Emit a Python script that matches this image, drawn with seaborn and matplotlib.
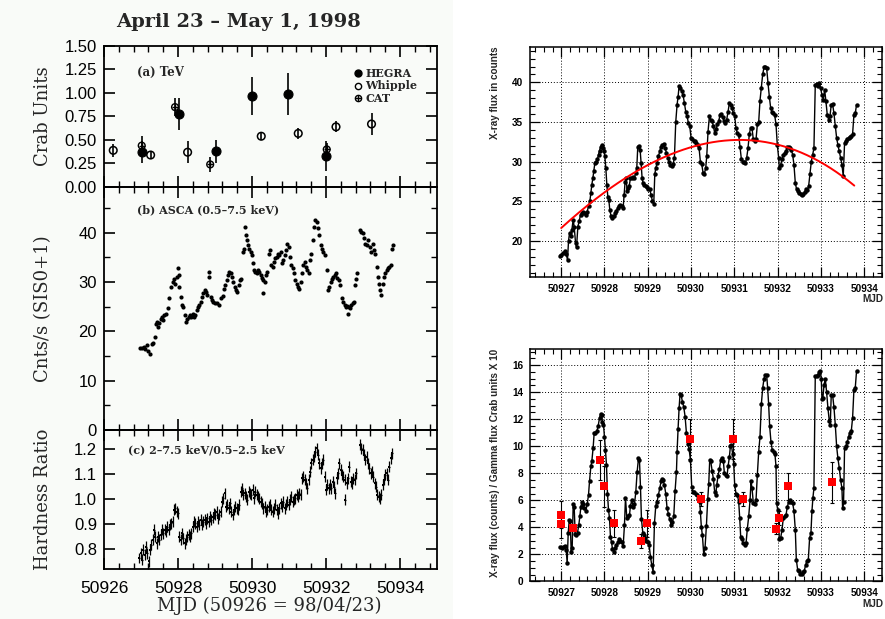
import numpy as np
import pandas as pd
import matplotlib
matplotlib.use("Agg")
import matplotlib.pyplot as plt
from matplotlib.patches import Rectangle
from matplotlib.lines import Line2D
from matplotlib.ticker import MultipleLocator, FixedLocator, FormatStrFormatter, NullFormatter
import seaborn as sns

MJD0 = 50926  # all times below are days after MJD 50926

# ---------------- (a) TeV fluxes in Crab units ----------------
HEGRA_T = [1.02, 2.03, 3.02, 4.01, 4.98, 6.00]
HEGRA_F = [0.37, 0.78, 0.38, 0.97, 0.99, 0.33]
HEGRA_E = [0.12, 0.17, 0.12, 0.20, 0.22, 0.16]
WHIPPLE_T = [0.25, 1.26, 2.26, 4.25, 5.25, 6.27, 7.23]
WHIPPLE_F = [0.39, 0.34, 0.37, 0.54, 0.57, 0.64, 0.67]
WHIPPLE_E = [0.07, 0.04, 0.12, 0.04, 0.06, 0.06, 0.12]
CAT_T = [1.02, 1.92, 2.87, 6.02]
CAT_F = [0.44, 0.85, 0.24, 0.40]
CAT_E = [0.10, 0.10, 0.08, 0.07]

# ---------------- (b) ASCA count rate ----------------
ASCA_T = [0.973, 1.027, 1.081, 1.117, 1.153, 1.198, 1.243, 1.288, 1.333, 1.378,
          1.405, 1.441, 1.468, 1.495, 1.532, 1.568, 1.604, 1.631, 1.676, 1.721,
          1.766, 1.820, 1.856, 1.892, 1.928, 1.964, 1.991, 2.018, 2.036, 2.072,
          2.108, 2.144, 2.180, 2.216, 2.252, 2.288, 2.324, 2.360, 2.396, 2.432,
          2.468, 2.505, 2.541, 2.577, 2.613, 2.649, 2.685, 2.721, 2.757, 2.793,
          2.829, 2.847, 2.883, 2.919, 2.955, 2.991, 3.045, 3.099, 3.153, 3.207,
          3.243, 3.279, 3.315, 3.351, 3.387, 3.423, 3.459, 3.495, 3.532, 3.568,
          3.604, 3.640, 3.676, 3.712, 3.748, 3.775, 3.802, 3.829, 3.856, 3.892,
          3.928, 3.964, 3.991, 4.018, 4.054, 4.090, 4.126, 4.162, 4.198, 4.234,
          4.270, 4.288, 4.306, 4.342, 4.378, 4.414, 4.450, 4.486, 4.523, 4.559,
          4.595, 4.631, 4.667, 4.703, 4.739, 4.775, 4.811, 4.847, 4.883, 4.919,
          4.955, 4.991, 5.027, 5.063, 5.099, 5.135, 5.171, 5.207, 5.243, 5.279,
          5.315, 5.351, 5.387, 5.423, 5.459, 5.495, 5.532, 5.568, 5.604, 5.640,
          5.676, 5.712, 5.748, 5.784, 5.820, 5.856, 5.892, 5.928, 5.964, 6.018,
          6.054, 6.090, 6.126, 6.162, 6.198, 6.234, 6.270, 6.306, 6.342, 6.378,
          6.432, 6.468, 6.505, 6.541, 6.577, 6.604, 6.613, 6.649, 6.685, 6.721,
          6.757, 6.793, 6.811, 6.829, 6.919, 6.955, 6.991, 7.027, 7.063, 7.099,
          7.135, 7.189, 7.225, 7.261, 7.297, 7.333, 7.369, 7.405, 7.423, 7.459,
          7.495, 7.532, 7.568, 7.604, 7.640, 7.676, 7.712, 7.748, 7.784, 7.820]
ASCA_R = [16.6, 16.6, 16.9, 16.4, 17.2, 16.1, 15.4, 17.4, 17.7, 18.9,
          21.6, 22.0, 21.0, 21.8, 22.6, 23.0, 22.4, 23.3, 23.6, 24.7,
          26.7, 29.1, 30.1, 30.7, 29.7, 31.1, 32.8, 31.4, 29.1, 27.0,
          25.3, 25.0, 23.3, 22.0, 22.6, 23.0, 23.3, 23.0, 23.6, 23.0,
          23.3, 24.3, 25.0, 25.3, 26.0, 27.0, 27.7, 28.4, 28.0, 27.4,
          32.1, 31.1, 27.0, 26.4, 26.0, 25.8, 25.7, 25.3, 26.7, 27.2,
          28.7, 29.4, 30.4, 31.4, 32.1, 31.8, 31.1, 30.1, 29.1, 28.4,
          28.0, 29.4, 30.4, 30.7, 36.1, 36.8, 41.2, 39.5, 38.5, 37.5,
          36.8, 36.1, 35.5, 33.8, 32.4, 32.1, 31.8, 32.4, 32.1, 31.4,
          30.9, 30.4, 27.7, 30.1, 31.4, 32.1, 35.8, 36.5, 33.4, 33.1,
          34.1, 34.8, 35.1, 35.8, 35.5, 36.1, 33.8, 34.5, 35.5, 36.5,
          37.8, 37.2, 35.1, 33.4, 32.8, 31.8, 30.4, 29.7, 29.1, 28.7,
          30.1, 31.8, 33.4, 34.1, 33.1, 32.4, 31.8, 34.5, 35.8, 38.5,
          41.2, 42.7, 42.2, 40.9, 39.5, 37.5, 36.8, 36.1, 35.5, 32.4,
          28.4, 29.1, 30.1, 30.7, 31.1, 31.4, 31.8, 30.9, 30.4, 29.4,
          26.7, 26.0, 25.3, 25.0, 25.1, 23.6, 25.0, 24.7, 25.3, 25.7,
          26.0, 29.4, 30.7, 31.8, 40.5, 40.2, 39.9, 38.9, 37.8, 37.5,
          38.5, 37.2, 36.1, 37.8, 36.5, 35.8, 33.1, 31.1, 29.7, 28.4,
          27.4, 29.7, 31.1, 31.8, 32.4, 32.8, 33.1, 33.4, 36.8, 37.5]

# ---------------- (c) hardness ratio ----------------
HR_T = [0.955, 0.991, 1.027, 1.063, 1.099, 1.135, 1.171, 1.207, 1.243, 1.279,
        1.315, 1.351, 1.387, 1.423, 1.459, 1.495, 1.532, 1.568, 1.604, 1.640,
        1.676, 1.712, 1.748, 1.784, 1.820, 1.856, 1.892, 1.928, 1.964, 2.000,
        2.036, 2.072, 2.108, 2.144, 2.180, 2.216, 2.252, 2.288, 2.324, 2.360,
        2.396, 2.432, 2.468, 2.505, 2.541, 2.577, 2.613, 2.649, 2.685, 2.721,
        2.757, 2.793, 2.829, 2.865, 2.901, 2.937, 2.973, 3.009, 3.045, 3.081,
        3.117, 3.153, 3.189, 3.225, 3.261, 3.297, 3.333, 3.369, 3.405, 3.441,
        3.477, 3.514, 3.550, 3.586, 3.622, 3.658, 3.694, 3.730, 3.766, 3.802,
        3.838, 3.874, 3.910, 3.946, 3.982, 4.018, 4.054, 4.090, 4.126, 4.162,
        4.198, 4.234, 4.270, 4.306, 4.342, 4.378, 4.414, 4.450, 4.486, 4.523,
        4.559, 4.595, 4.631, 4.667, 4.703, 4.739, 4.775, 4.811, 4.847, 4.883,
        4.919, 4.955, 4.991, 5.027, 5.063, 5.099, 5.135, 5.171, 5.207, 5.243,
        5.279, 5.315, 5.351, 5.387, 5.423, 5.459, 5.495, 5.532, 5.568, 5.604,
        5.640, 5.676, 5.712, 5.748, 5.784, 5.820, 5.856, 5.892, 5.928, 5.964,
        6.000, 6.036, 6.072, 6.108, 6.144, 6.180, 6.216, 6.252, 6.288, 6.324,
        6.360, 6.396, 6.432, 6.468, 6.505, 6.523, 6.559, 6.595, 6.631, 6.667,
        6.703, 6.739, 6.775, 6.811, 6.919, 6.955, 6.991, 7.027, 7.063, 7.099,
        7.135, 7.171, 7.207, 7.243, 7.279, 7.315, 7.351, 7.387, 7.423, 7.459,
        7.495, 7.532, 7.568, 7.604, 7.640, 7.676, 7.712, 7.748, 7.784]
HR_V = [0.764, 0.784, 0.757, 0.797, 0.777, 0.810, 0.784, 0.750, 0.797, 0.817,
        0.837, 0.877, 0.850, 0.824, 0.850, 0.837, 0.857, 0.877, 0.864, 0.877,
        0.870, 0.890, 0.877, 0.897, 0.904, 0.910, 0.957, 0.964, 0.950, 0.944,
        0.850, 0.837, 0.864, 0.844, 0.824, 0.837, 0.850, 0.857, 0.850, 0.864,
        0.890, 0.910, 0.904, 0.890, 0.910, 0.897, 0.917, 0.897, 0.910, 0.917,
        0.904, 0.924, 0.910, 0.930, 0.917, 0.928, 0.944, 0.937, 0.950, 0.924,
        0.937, 0.950, 0.990, 1.004, 1.024, 0.970, 0.977, 0.964, 0.984, 0.950,
        0.937, 0.957, 0.970, 0.964, 0.957, 0.977, 1.030, 1.044, 1.017, 1.024,
        1.010, 0.997, 1.030, 1.024, 1.017, 1.037, 1.004, 1.030, 1.017, 1.010,
        1.004, 0.990, 0.984, 0.964, 0.970, 0.950, 0.957, 0.970, 0.977, 0.957,
        0.950, 0.964, 0.977, 0.957, 0.944, 0.964, 0.984, 0.970, 0.990, 0.964,
        0.977, 0.990, 0.977, 0.997, 1.010, 0.990, 0.997, 1.004, 1.017, 1.010,
        1.024, 1.017, 1.084, 1.090, 1.077, 1.064, 1.044, 1.077, 1.110, 1.144,
        1.157, 1.170, 1.190, 1.204, 1.177, 1.144, 1.124, 1.144, 1.157, 1.090,
        1.037, 1.057, 1.044, 1.057, 1.044, 1.070, 1.050, 1.024, 1.084, 1.104,
        1.144, 1.117, 1.097, 1.090, 1.077, 0.997, 1.064, 1.084, 1.130, 1.070,
        1.064, 1.084, 1.077, 1.104, 1.217, 1.204, 1.197, 1.177, 1.157, 1.170,
        1.144, 1.124, 1.104, 1.110, 1.090, 1.064, 1.050, 1.017, 1.010, 1.004,
        1.017, 1.057, 1.077, 1.097, 1.104, 1.077, 1.130, 1.164, 1.184]
HR_TERR = 0.016
HR_VERR = 0.022

# ---------------- X-ray flux in counts ----------------
XR_T = [0.980, 1.000, 1.046, 1.085, 1.115, 1.146, 1.169, 1.192, 1.223, 1.246,
        1.277, 1.300, 1.331, 1.354, 1.385, 1.415, 1.446, 1.477, 1.508, 1.538,
        1.569, 1.600, 1.631, 1.662, 1.685, 1.708, 1.731, 1.754, 1.777, 1.808,
        1.838, 1.862, 1.885, 1.915, 1.938, 1.962, 1.985, 2.008, 2.031, 2.054,
        2.077, 2.100, 2.123, 2.154, 2.185, 2.215, 2.246, 2.277, 2.308, 2.338,
        2.369, 2.400, 2.431, 2.454, 2.477, 2.500, 2.523, 2.546, 2.569, 2.600,
        2.631, 2.662, 2.692, 2.723, 2.746, 2.769, 2.800, 2.823, 2.846, 2.869,
        2.892, 2.923, 2.954, 2.985, 3.015, 3.046, 3.077, 3.108, 3.138, 3.162,
        3.185, 3.215, 3.246, 3.277, 3.308, 3.338, 3.369, 3.400, 3.431, 3.462,
        3.492, 3.523, 3.554, 3.585, 3.615, 3.646, 3.677, 3.700, 3.723, 3.754,
        3.785, 3.815, 3.846, 3.877, 3.908, 3.938, 3.969, 4.000, 4.031, 4.062,
        4.092, 4.123, 4.154, 4.185, 4.215, 4.246, 4.277, 4.308, 4.338, 4.362,
        4.392, 4.423, 4.454, 4.485, 4.515, 4.546, 4.577, 4.608, 4.638, 4.669,
        4.700, 4.731, 4.762, 4.792, 4.823, 4.854, 4.885, 4.915, 4.946, 4.977,
        5.008, 5.038, 5.069, 5.100, 5.131, 5.162, 5.192, 5.223, 5.254, 5.285,
        5.315, 5.346, 5.377, 5.408, 5.438, 5.469, 5.500, 5.531, 5.562, 5.592,
        5.623, 5.654, 5.685, 5.715, 5.746, 5.777, 5.808, 5.838, 5.869, 5.900,
        5.931, 5.962, 5.992, 6.023, 6.038, 6.069, 6.100, 6.131, 6.162, 6.192,
        6.223, 6.254, 6.285, 6.315, 6.346, 6.377, 6.408, 6.438, 6.469, 6.500,
        6.531, 6.562, 6.592, 6.623, 6.654, 6.685, 6.715, 6.746, 6.777, 6.808,
        6.838, 6.869, 6.900, 6.931, 6.962, 6.992, 7.023, 7.054, 7.085, 7.115,
        7.146, 7.177, 7.208, 7.238, 7.269, 7.300, 7.331, 7.362, 7.392, 7.423,
        7.454, 7.485, 7.515, 7.546, 7.577, 7.608, 7.638, 7.669, 7.700, 7.731,
        7.762, 7.792, 7.823]
XR_C = [18.1, 18.2, 18.5, 18.7, 18.4, 17.6, 20.0, 21.0, 20.6, 21.4,
        22.7, 21.8, 19.8, 19.2, 21.8, 22.5, 23.3, 23.5, 23.7, 23.5,
        23.3, 23.7, 24.4, 25.0, 26.1, 27.1, 27.9, 28.8, 29.8, 30.0,
        30.3, 30.9, 31.4, 31.9, 32.1, 31.7, 31.4, 30.7, 29.2, 27.1,
        25.6, 25.2, 23.9, 23.1, 22.9, 23.1, 23.5, 23.8, 24.2, 24.4,
        24.5, 24.4, 24.2, 25.8, 27.5, 27.9, 26.3, 26.7, 26.9, 27.9,
        28.0, 28.1, 28.0, 28.6, 29.2, 31.9, 32.0, 31.5, 29.8, 27.9,
        27.3, 27.1, 26.9, 26.8, 26.6, 26.5, 25.8, 25.0, 24.7, 28.4,
        29.2, 29.8, 30.7, 31.3, 31.9, 32.1, 32.2, 31.7, 31.1, 30.5,
        30.0, 29.6, 29.4, 29.7, 30.5, 35.0, 37.2, 38.2, 39.5, 39.3,
        38.9, 38.4, 37.4, 36.3, 35.7, 34.9, 34.5, 33.0, 32.8, 32.6,
        32.6, 32.4, 32.1, 31.7, 30.0, 29.7, 28.6, 28.5, 29.2, 30.7,
        33.8, 35.7, 35.3, 35.1, 34.5, 33.6, 34.1, 34.7, 35.1, 35.9,
        36.0, 35.6, 35.1, 34.9, 35.3, 36.3, 37.4, 37.1, 36.8, 36.1,
        35.7, 34.2, 33.6, 33.4, 31.9, 30.3, 30.0, 30.0, 29.8, 30.5,
        31.7, 33.5, 34.3, 34.2, 32.8, 32.6, 32.8, 34.7, 35.0, 37.7,
        39.3, 41.0, 41.9, 42.0, 41.8, 39.9, 38.2, 36.8, 36.3, 36.1,
        35.9, 34.7, 32.1, 30.5, 29.2, 29.6, 30.3, 30.9, 31.1, 31.3,
        31.9, 31.9, 31.7, 31.5, 30.9, 29.6, 27.3, 26.5, 26.3, 26.1,
        25.9, 25.8, 25.9, 26.2, 26.5, 26.4, 26.9, 28.4, 30.0, 30.9,
        31.7, 39.7, 39.8, 39.5, 39.9, 39.3, 38.4, 37.8, 39.1, 37.6,
        35.9, 35.3, 35.7, 37.2, 37.3, 36.1, 34.5, 33.0, 32.1, 31.3,
        30.5, 29.6, 28.2, 32.4, 32.6, 32.8, 33.0, 33.1, 33.2, 33.5,
        35.9, 36.1, 37.2]

# parabolic trend drawn over the counts
TREND_T = [1.00, 2.00, 3.00, 4.33, 5.00, 6.00, 7.00, 7.77]
TREND_C = [21.7, 26.1, 29.3, 32.6, 32.9, 31.9, 29.8, 27.1]

# ---------------- X-ray / gamma flux ratio ----------------
RATIO_T = [0.970, 1.008, 1.046, 1.085, 1.115, 1.138, 1.162, 1.185, 1.208, 1.231,
           1.254, 1.277, 1.300, 1.323, 1.346, 1.377, 1.408, 1.431, 1.454, 1.477,
           1.508, 1.538, 1.569, 1.600, 1.631, 1.654, 1.685, 1.708, 1.738, 1.762,
           1.792, 1.823, 1.854, 1.885, 1.908, 1.931, 1.954, 1.977, 2.000, 2.023,
           2.046, 2.069, 2.092, 2.115, 2.138, 2.162, 2.185, 2.215, 2.246, 2.277,
           2.308, 2.338, 2.369, 2.400, 2.431, 2.462, 2.485, 2.515, 2.546, 2.577,
           2.600, 2.631, 2.662, 2.692, 2.723, 2.754, 2.785, 2.808, 2.831, 2.854,
           2.885, 2.908, 2.938, 2.969, 3.000, 3.031, 3.062, 3.092, 3.123, 3.154,
           3.185, 3.215, 3.246, 3.277, 3.308, 3.331, 3.354, 3.385, 3.415, 3.446,
           3.477, 3.508, 3.538, 3.569, 3.600, 3.631, 3.662, 3.677, 3.700, 3.723,
           3.746, 3.769, 3.800, 3.831, 3.862, 3.892, 3.923, 3.954, 3.985, 4.015,
           4.046, 4.077, 4.108, 4.138, 4.169, 4.200, 4.215, 4.238, 4.262, 4.292,
           4.323, 4.354, 4.385, 4.408, 4.431, 4.454, 4.485, 4.515, 4.546, 4.569,
           4.592, 4.623, 4.654, 4.685, 4.715, 4.746, 4.769, 4.800, 4.831, 4.854,
           4.885, 4.908, 4.931, 4.962, 4.985, 5.008, 5.038, 5.069, 5.100, 5.123,
           5.146, 5.177, 5.208, 5.238, 5.269, 5.300, 5.331, 5.362, 5.385, 5.408,
           5.438, 5.469, 5.500, 5.531, 5.562, 5.592, 5.623, 5.654, 5.685, 5.715,
           5.746, 5.769, 5.792, 5.815, 5.846, 5.877, 5.908, 5.938, 5.962, 5.977,
           6.000, 6.023, 6.038, 6.069, 6.100, 6.131, 6.162, 6.192, 6.223, 6.254,
           6.285, 6.315, 6.346, 6.377, 6.408, 6.431, 6.462, 6.492, 6.523, 6.554,
           6.585, 6.615, 6.646, 6.677, 6.708, 6.738, 6.769, 6.792, 6.815, 6.838,
           6.869, 6.900, 6.931, 6.962, 6.985, 7.008, 7.023, 7.046, 7.069, 7.100,
           7.131, 7.162, 7.192, 7.215, 7.238, 7.269, 7.300, 7.331, 7.362, 7.392,
           7.423, 7.454, 7.485, 7.500, 7.523, 7.546, 7.577, 7.608, 7.638, 7.669,
           7.700, 7.731, 7.762, 7.792, 7.823]
RATIO_V = [2.51, 2.46, 2.54, 2.64, 2.34, 1.35, 3.57, 4.56, 4.43, 2.20,
           2.50, 5.70, 5.50, 3.50, 3.40, 3.60, 4.20, 4.80, 5.50, 5.90,
           5.70, 5.40, 5.20, 5.70, 6.40, 7.40, 8.50, 8.90, 9.90, 11.0,
           11.0, 11.1, 11.5, 12.1, 12.4, 12.3, 11.8, 11.6, 10.7, 9.7,
           8.6, 6.5, 5.3, 4.7, 3.3, 2.9, 2.4, 2.2, 2.5, 2.7,
           2.9, 3.1, 3.0, 2.9, 2.6, 4.2, 6.2, 4.7, 4.8, 4.9,
           5.6, 6.0, 5.5, 5.7, 6.6, 8.1, 9.1, 9.0, 7.0, 4.6,
           3.6, 3.4, 3.2, 3.0, 2.9, 2.7, 1.8, 1.2, 0.7, 4.3,
           5.6, 5.9, 6.4, 6.9, 7.4, 7.6, 7.5, 7.1, 6.5, 5.4,
           5.0, 4.6, 4.2, 4.4, 4.8, 6.7, 8.1, 9.6, 11.3, 12.8,
           13.9, 13.8, 13.3, 12.9, 12.2, 11.0, 10.2, 9.8, 9.0, 7.0,
           6.6, 6.6, 6.5, 6.4, 6.1, 5.9, 5.1, 4.0, 3.4, 2.0,
           2.5, 4.1, 6.1, 7.2, 9.0, 8.9, 8.2, 7.6, 6.6, 6.4,
           7.1, 7.8, 8.3, 9.0, 9.1, 8.9, 8.0, 7.9, 7.8, 8.5,
           9.2, 10.0, 10.1, 9.4, 8.7, 7.1, 6.5, 6.4, 5.9, 4.7,
           3.3, 3.1, 2.8, 2.7, 2.8, 3.9, 4.8, 6.0, 7.4, 6.9,
           5.8, 5.7, 6.0, 7.9, 9.6, 10.7, 13.1, 14.3, 15.0, 15.3,
           15.3, 14.3, 13.1, 11.5, 10.3, 9.7, 9.6, 9.4, 8.5, 5.8,
           5.3, 4.6, 3.1, 3.2, 3.8, 4.7, 4.8, 4.9, 5.5, 5.9,
           6.0, 5.9, 5.8, 5.2, 3.8, 1.6, 0.86, 0.74, 0.54, 0.54,
           0.69, 0.79, 1.2, 1.5, 1.6, 3.2, 3.6, 5.2, 6.2, 6.9,
           15.2, 15.2, 15.3, 15.5, 15.6, 15.0, 13.5, 13.6, 14.5, 15.0,
           14.0, 12.8, 11.9, 11.6, 13.8, 13.8, 12.9, 11.6, 10.0, 9.1,
           8.4, 7.5, 6.9, 5.4, 5.9, 9.9, 10.0, 10.3, 10.7, 11.0,
           11.1, 12.1, 14.2, 14.3, 15.6]

# gamma points on the ratio scale (Crab units x 10)
GAMMA_T = [1.00, 1.00, 1.28, 1.89, 2.00, 2.23, 2.85, 2.98, 3.97, 4.22,
           4.97, 5.21, 5.97, 6.02, 6.24, 7.26]
GAMMA_V = [4.93, 4.24, 3.92, 8.99, 7.02, 4.31, 3.00, 4.31, 10.54, 6.11,
           10.54, 6.11, 3.90, 4.68, 7.02, 7.32]
GAMMA_E = [1.0, 1.0, 0.2, 1.5, 1.5, 1.0, 0.5, 1.0, 1.5, 0.5,
           1.5, 0.5, 0.4, 0.5, 1.0, 1.5]


def mjd(offsets):
    return MJD0 + np.asarray(offsets, dtype=float)


sns.set_style("ticks")
plt.rcParams["font.family"] = ["DejaVu Sans"]
plt.rcParams["axes.linewidth"] = 1.2

SERIF = "DejaVu Serif"
HELV = "Liberation Sans"

fig = plt.figure(figsize=(8.85, 6.19), dpi=100)
fig.patch.set_facecolor("white")
# faint tint of the printed left-hand figure
fig.patches.append(Rectangle((0, 0), 0.512, 1, transform=fig.transFigure,
                             facecolor="#f9fbf8", edgecolor="none", zorder=-10))

axA = fig.add_axes([0.1175, 0.6979, 0.3763, 0.2278])
axB = fig.add_axes([0.1175, 0.3053, 0.3763, 0.3926])
axC = fig.add_axes([0.1175, 0.0808, 0.3763, 0.2246])
axR1 = fig.add_axes([0.5989, 0.553, 0.3977, 0.3716])
axR2 = fig.add_axes([0.5989, 0.0609, 0.3977, 0.3753])

# ---------------- left column ----------------
# (a) TeV
axA.errorbar(mjd(HEGRA_T), HEGRA_F, yerr=HEGRA_E, fmt="none", ecolor="black", elinewidth=1.2)
axA.errorbar(mjd(WHIPPLE_T), WHIPPLE_F, yerr=WHIPPLE_E, fmt="none", ecolor="black", elinewidth=1.2)
axA.errorbar(mjd(CAT_T), CAT_F, yerr=CAT_E, fmt="none", ecolor="black", elinewidth=1.2)
sns.scatterplot(x=mjd(HEGRA_T), y=HEGRA_F, ax=axA, marker="o", s=42, color="black",
                edgecolor="black", linewidth=0.8, zorder=3)
sns.scatterplot(x=mjd(WHIPPLE_T), y=WHIPPLE_F, ax=axA, marker="o", s=30,
                facecolor="none", edgecolor="black", linewidth=1.1, zorder=3)
sns.scatterplot(x=mjd(CAT_T), y=CAT_F, ax=axA, marker="o", s=24,
                facecolor="none", edgecolor="black", linewidth=1.0, zorder=3)
sns.scatterplot(x=mjd(CAT_T), y=CAT_F, ax=axA, marker="+", s=24, color="black",
                linewidth=1.0, zorder=3)

leg_handles = [
    Line2D([], [], ls="none", marker="o", ms=5, color="black"),
    Line2D([], [], ls="none", marker="o", ms=4.5, mfc="none", mec="black", mew=1.0),
    (Line2D([], [], ls="none", marker="o", ms=4.5, mfc="none", mec="black", mew=1.0),
     Line2D([], [], ls="none", marker="+", ms=4.5, color="black", mew=1.0)),
]
axA.legend(leg_handles, ["HEGRA", "Whipple", "CAT"], loc="upper right",
           bbox_to_anchor=(0.955, 0.875), frameon=False, handlelength=0.6,
           handletextpad=0.35, labelspacing=0.12, borderaxespad=0,
           prop={"family": SERIF, "weight": "bold", "size": 8})
axA.text(0.099, 0.81, "(a) TeV", transform=axA.transAxes, ha="left", va="center",
         family=SERIF, fontweight="bold", fontsize=8.5)

# (b) ASCA
sns.scatterplot(x=mjd(ASCA_T), y=ASCA_R, ax=axB, s=9, color="black", linewidth=0)
axB.text(0.099, 0.905, "(b) ASCA (0.5\u20137.5 keV)", transform=axB.transAxes,
         ha="left", va="center", family=SERIF, fontweight="bold", fontsize=8)

# (c) hardness ratio
axC.errorbar(mjd(HR_T), HR_V, xerr=HR_TERR, yerr=HR_VERR, fmt="none",
             ecolor="black", elinewidth=0.9)
sns.scatterplot(x=mjd(HR_T), y=HR_V, ax=axC, s=4, marker="s", color="black", linewidth=0)
axC.text(0.072, 0.856, "(c) 2\u20137.5 keV/0.5\u20132.5 keV", transform=axC.transAxes,
         ha="left", va="center", family=SERIF, fontweight="bold", fontsize=8)

for ax in (axA, axB, axC):
    ax.set_facecolor("none")
    ax.set_xlim(50926, 50935)
    ax.xaxis.set_major_locator(MultipleLocator(2))
    ax.xaxis.set_minor_locator(MultipleLocator(0.4))
    ax.tick_params(which="both", direction="in", top=True, right=True, colors="black")
    ax.tick_params(which="major", length=8, width=1.2, labelsize=12, pad=5)
    ax.tick_params(which="minor", length=4, width=1.0)
    for s in ax.spines.values():
        s.set_color("black")
        s.set_linewidth(1.3)
    ax.set_xlabel("")
    ax.set_ylabel("")

axA.set_ylim(0, 1.5)
axA.yaxis.set_major_locator(MultipleLocator(0.25))
axA.yaxis.set_major_formatter(FormatStrFormatter("%.2f"))
axB.set_ylim(0, 49.3)
axB.yaxis.set_major_locator(MultipleLocator(10))
axB.yaxis.set_minor_locator(MultipleLocator(5))
axB.yaxis.set_major_formatter(FormatStrFormatter("%d"))
axC.set_ylim(0.72, 1.277)
axC.yaxis.set_major_locator(FixedLocator([0.8, 0.9, 1.0, 1.1, 1.2]))
axC.yaxis.set_major_formatter(FormatStrFormatter("%.1f"))
axC.xaxis.set_major_formatter(FormatStrFormatter("%d"))
axC.tick_params(axis="x", which="major", labelsize=12.5, pad=9)
axA.xaxis.set_major_formatter(NullFormatter())
axB.xaxis.set_major_formatter(NullFormatter())

for ax in (axA, axB, axC):
    for lab in ax.get_xticklabels() + ax.get_yticklabels():
        lab.set_family(HELV)

for ax, lab in ((axA, "Crab Units"), (axB, "Cnts/s (SIS0+1)"), (axC, "Hardness Ratio")):
    ax.set_ylabel(lab, family=SERIF, fontsize=13)
    ax.yaxis.set_label_coords(-0.155, 0.5)
axC.set_xlabel("MJD (50926 = 98/04/23)", family=SERIF, fontsize=13)
axC.xaxis.set_label_coords(0.496, -0.2)

fig.text(0.270, 0.965, "April 23 \u2013 May 1, 1998", ha="center", va="center",
         family=SERIF, fontweight="bold", fontsize=14)

# ---------------- right column ----------------
xr = pd.DataFrame({"mjd": mjd(XR_T), "counts": XR_C})
sns.lineplot(data=xr, x="mjd", y="counts", ax=axR1, color="black", linewidth=1.0,
             marker="o", markersize=3.2, markeredgewidth=0, estimator=None, sort=False)
trend_coef = np.polyfit(TREND_T, TREND_C, 3)
trend_x = np.linspace(TREND_T[0], TREND_T[-1], 200)
sns.lineplot(x=mjd(trend_x), y=np.polyval(trend_coef, trend_x), ax=axR1,
             color="#ff0000", linewidth=1.4, estimator=None, sort=False)

rt = pd.DataFrame({"mjd": mjd(RATIO_T), "ratio": RATIO_V})
sns.lineplot(data=rt, x="mjd", y="ratio", ax=axR2, color="black", linewidth=1.0,
             marker="o", markersize=3.2, markeredgewidth=0, estimator=None, sort=False)
axR2.errorbar(mjd(GAMMA_T), GAMMA_V, yerr=GAMMA_E, fmt="none", ecolor="black",
              elinewidth=0.8, capsize=1.6, capthick=0.8, zorder=4)
sns.scatterplot(x=mjd(GAMMA_T), y=GAMMA_V, ax=axR2, marker="s", s=26,
                color="#ff0000", linewidth=0, zorder=5)

for ax in (axR1, axR2):
    ax.set_xlim(50926.28, 50934.41)
    ax.xaxis.set_major_locator(MultipleLocator(1))
    ax.xaxis.set_minor_locator(MultipleLocator(0.2))
    ax.xaxis.set_major_formatter(FormatStrFormatter("%d"))
    ax.tick_params(which="both", direction="in", top=True, right=True, colors="black")
    ax.tick_params(which="major", length=7, width=0.9, labelsize=7.2, pad=5)
    ax.tick_params(which="minor", length=3.5, width=0.8)
    ax.grid(True, which="major", color="black", linestyle=(0, (1, 2)), linewidth=0.7)
    for s in ax.spines.values():
        s.set_color("black")
        s.set_linewidth(1.1)
    ax.set_xlabel("MJD", loc="right", fontsize=7.2, fontweight="bold", family=HELV)
    ax.xaxis.set_label_coords(1.005, -0.075)
    for lab in ax.get_xticklabels() + ax.get_yticklabels():
        lab.set_family(HELV)
        lab.set_fontweight("bold")

axR1.set_ylim(15.5, 44.5)
axR1.yaxis.set_major_locator(MultipleLocator(5))
axR1.yaxis.set_minor_locator(MultipleLocator(1))
axR1.set_ylabel("X-ray flux in counts", loc="top", fontsize=7.2, fontweight="bold", family=HELV)
axR1.yaxis.set_label_coords(-0.085, 1.0)

axR2.set_ylim(0, 17.2)
axR2.yaxis.set_major_locator(MultipleLocator(2))
axR2.yaxis.set_minor_locator(MultipleLocator(0.5))
axR2.set_ylabel("X-ray flux (counts) / Gamma flux Crab units X 10", loc="top",
                fontsize=7.2, fontweight="bold", family=HELV)
axR2.yaxis.set_label_coords(-0.085, 1.0)

fig.savefig("out.png", dpi=100)
